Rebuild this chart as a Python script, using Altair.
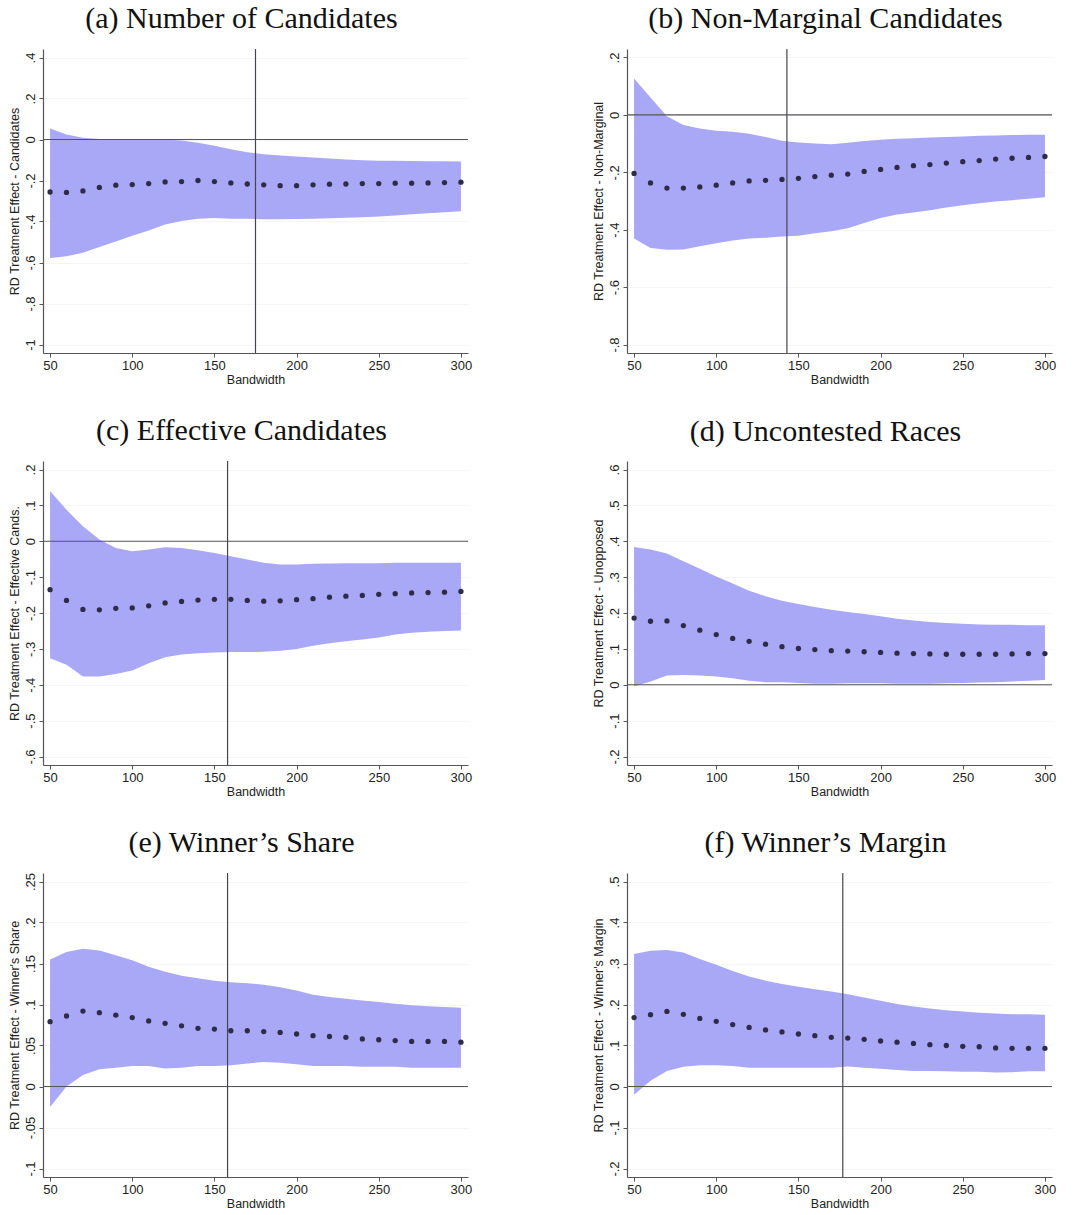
import altair as alt
import pandas as pd

# Bandwidths at which the RD effect was estimated
bandwidth = [50, 60, 70, 80, 90, 100, 110, 120, 130, 140, 150, 160, 170,
             180, 190, 200, 210, 220, 230, 240, 250, 260, 270, 280, 290, 300]

# (a) Number of candidates
a_est = [-0.256, -0.258, -0.251, -0.234, -0.223, -0.220, -0.215, -0.207, -0.205,
         -0.200, -0.205, -0.212, -0.217, -0.221, -0.225, -0.225, -0.221, -0.218,
         -0.217, -0.215, -0.215, -0.213, -0.213, -0.212, -0.210, -0.208]
a_hi = [0.054, 0.024, 0.008, 0.003, 0.000, 0.000, 0.000, 0.000, -0.005, -0.016,
        -0.031, -0.047, -0.062, -0.072, -0.078, -0.083, -0.088, -0.093, -0.098,
        -0.101, -0.104, -0.104, -0.105, -0.106, -0.106, -0.107]
a_lo = [-0.578, -0.570, -0.552, -0.524, -0.497, -0.470, -0.444, -0.415, -0.397,
        -0.386, -0.383, -0.386, -0.387, -0.389, -0.389, -0.388, -0.386, -0.384,
        -0.382, -0.379, -0.376, -0.371, -0.365, -0.360, -0.355, -0.350]

# (b) Non-marginal candidates
b_est = [-0.204, -0.237, -0.255, -0.255, -0.251, -0.245, -0.237, -0.230, -0.228,
         -0.225, -0.221, -0.215, -0.210, -0.206, -0.197, -0.190, -0.183, -0.177,
         -0.173, -0.168, -0.163, -0.159, -0.154, -0.151, -0.148, -0.145]
b_hi = [0.127, 0.061, -0.005, -0.035, -0.047, -0.055, -0.059, -0.066, -0.077,
        -0.090, -0.096, -0.100, -0.102, -0.097, -0.091, -0.087, -0.083, -0.081,
        -0.079, -0.077, -0.075, -0.073, -0.072, -0.070, -0.069, -0.069]
b_lo = [-0.431, -0.464, -0.470, -0.469, -0.458, -0.447, -0.438, -0.431, -0.428,
        -0.424, -0.421, -0.412, -0.405, -0.395, -0.377, -0.359, -0.347, -0.340,
        -0.332, -0.323, -0.315, -0.308, -0.302, -0.297, -0.292, -0.287]

# (c) Effective candidates
c_est = [-0.135, -0.165, -0.190, -0.191, -0.187, -0.186, -0.180, -0.172, -0.168,
         -0.164, -0.162, -0.162, -0.165, -0.167, -0.166, -0.163, -0.160, -0.156,
         -0.153, -0.151, -0.148, -0.146, -0.144, -0.143, -0.142, -0.140]
c_hi = [0.140, 0.088, 0.042, 0.005, -0.019, -0.028, -0.023, -0.017, -0.019,
        -0.025, -0.033, -0.042, -0.051, -0.060, -0.065, -0.065, -0.063, -0.062,
        -0.061, -0.061, -0.061, -0.060, -0.060, -0.060, -0.060, -0.060]
c_lo = [-0.326, -0.344, -0.377, -0.377, -0.370, -0.360, -0.340, -0.323, -0.316,
        -0.312, -0.310, -0.309, -0.309, -0.308, -0.305, -0.300, -0.291, -0.284,
        -0.279, -0.274, -0.268, -0.260, -0.255, -0.252, -0.250, -0.249]

# (d) Uncontested races
d_est = [0.186, 0.177, 0.178, 0.165, 0.152, 0.140, 0.129, 0.121, 0.113, 0.106,
         0.101, 0.098, 0.095, 0.094, 0.092, 0.090, 0.088, 0.087, 0.086, 0.085,
         0.085, 0.085, 0.085, 0.086, 0.087, 0.087]
d_hi = [0.384, 0.377, 0.366, 0.344, 0.323, 0.302, 0.282, 0.262, 0.247, 0.234,
        0.225, 0.217, 0.209, 0.203, 0.197, 0.191, 0.184, 0.179, 0.175, 0.172,
        0.170, 0.168, 0.167, 0.167, 0.166, 0.166]
d_lo = [-0.005, 0.009, 0.026, 0.027, 0.026, 0.023, 0.018, 0.011, 0.007, 0.007,
        0.005, 0.003, 0.003, 0.004, 0.004, 0.004, 0.003, 0.003, 0.003, 0.004,
        0.005, 0.006, 0.007, 0.009, 0.011, 0.013]

# (e) Winner's share
e_est = [0.079, 0.086, 0.092, 0.090, 0.087, 0.084, 0.080, 0.077, 0.074, 0.071,
         0.070, 0.068, 0.068, 0.067, 0.066, 0.064, 0.062, 0.061, 0.060, 0.058,
         0.057, 0.056, 0.055, 0.055, 0.055, 0.054]
e_hi = [0.155, 0.164, 0.168, 0.166, 0.160, 0.154, 0.146, 0.140, 0.135, 0.132,
        0.129, 0.127, 0.126, 0.124, 0.121, 0.117, 0.112, 0.109, 0.107, 0.105,
        0.103, 0.101, 0.099, 0.098, 0.097, 0.096]
e_lo = [-0.025, 0.000, 0.014, 0.021, 0.023, 0.025, 0.025, 0.022, 0.023, 0.025,
        0.025, 0.026, 0.028, 0.030, 0.029, 0.027, 0.025, 0.025, 0.025, 0.024,
        0.024, 0.024, 0.023, 0.023, 0.023, 0.023]

# (f) Winner's margin
f_est = [0.168, 0.175, 0.183, 0.176, 0.166, 0.159, 0.151, 0.144, 0.138, 0.133,
         0.128, 0.124, 0.120, 0.118, 0.115, 0.111, 0.108, 0.105, 0.102, 0.100,
         0.098, 0.097, 0.094, 0.093, 0.093, 0.093]
f_hi = [0.323, 0.331, 0.333, 0.327, 0.311, 0.297, 0.282, 0.268, 0.258, 0.250,
        0.243, 0.237, 0.232, 0.225, 0.217, 0.209, 0.201, 0.195, 0.190, 0.186,
        0.183, 0.180, 0.178, 0.176, 0.176, 0.175]
f_lo = [-0.020, 0.014, 0.038, 0.048, 0.052, 0.052, 0.050, 0.046, 0.046, 0.046,
        0.046, 0.046, 0.046, 0.049, 0.046, 0.043, 0.040, 0.038, 0.038, 0.037,
        0.036, 0.036, 0.034, 0.035, 0.037, 0.037]

# Optimal bandwidth marked by a vertical line (none in panel d)
opt_bw = {"a": 175, "b": 143, "c": 158, "d": None, "e": 158, "f": 177}

titles = {
    "a": "(a) Number of Candidates",
    "b": "(b) Non-Marginal Candidates",
    "c": "(c) Effective Candidates",
    "d": "(d) Uncontested Races",
    "e": "(e) Winner\u2019s Share",
    "f": "(f) Winner\u2019s Margin",
}
ytitles = {
    "a": "RD Treatment Effect - Candidates",
    "b": "RD Treatment Effect - Non-Marginal",
    "c": "RD Treatment Effect - Effective Cands.",
    "d": "RD Treatment Effect - Unopposed",
    "e": "RD Treatment Effect - Winner's Share",
    "f": "RD Treatment Effect - Winner's Margin",
}
yticks = {
    "a": [-1, -0.8, -0.6, -0.4, -0.2, 0, 0.2, 0.4],
    "b": [-0.8, -0.6, -0.4, -0.2, 0, 0.2],
    "c": [-0.6, -0.5, -0.4, -0.3, -0.2, -0.1, 0, 0.1, 0.2],
    "d": [-0.2, -0.1, 0, 0.1, 0.2, 0.3, 0.4, 0.5, 0.6],
    "e": [-0.1, -0.05, 0, 0.05, 0.1, 0.15, 0.2, 0.25],
    "f": [-0.2, -0.1, 0, 0.1, 0.2, 0.3, 0.4, 0.5],
}
series = {
    "a": (a_est, a_lo, a_hi),
    "b": (b_est, b_lo, b_hi),
    "c": (c_est, c_lo, c_hi),
    "d": (d_est, d_lo, d_hi),
    "e": (e_est, e_lo, e_hi),
    "f": (f_est, f_lo, f_hi),
}
xticks = [50, 100, 150, 200, 250, 300]

BAND = "#a8a8f7"
DOT = "#2c2c48"
LINE = "#555558"
W, H = 425, 304

# Stata-style tick labels: ".4", "-.2", "0"
LABEL_EXPR = ("(datum.value < -1e-9 ? '-' : '') + "
              "replace(format(abs(datum.value), '.2~f'), '0.', '.')")


def panel(key):
    est, lo, hi = series[key]
    ticks = yticks[key]
    span = ticks[-1] - ticks[0]
    pad = span * 8.5 / 287
    ydom = [ticks[0] - pad, ticks[-1] + pad]
    xscale = alt.Scale(domain=[45.7, 304.3], nice=False, zero=False)
    yscale = alt.Scale(domain=ydom, nice=False, zero=False)
    xaxis = alt.Axis(values=xticks, title="Bandwidth", grid=False,
                     titlePadding=1)
    yaxis = alt.Axis(values=ticks, title=ytitles[key],
                     labelExpr=LABEL_EXPR, labelAngle=-90,
                     labelAlign="center", labelBaseline="bottom",
                     grid=True, gridColor="#f3f5f7", titlePadding=3)

    df = pd.DataFrame({"bw": bandwidth, "est": est, "lo": lo, "hi": hi})
    base = alt.Chart(df)

    band = base.mark_area(color=BAND, opacity=1).encode(
        x=alt.X("bw:Q", scale=xscale, axis=xaxis),
        y=alt.Y("hi:Q", scale=yscale, axis=yaxis),
        y2="lo:Q",
    )
    zero = alt.Chart(pd.DataFrame({"z": [0]})).mark_rule(
        color=LINE, strokeWidth=1.2).encode(
        y=alt.Y("z:Q", scale=yscale, axis=yaxis))
    layers = [band, zero]
    if opt_bw[key] is not None:
        vline = alt.Chart(pd.DataFrame({"v": [opt_bw[key]]})).mark_rule(
            color="#454550", strokeWidth=1.2).encode(
            x=alt.X("v:Q", scale=xscale, axis=xaxis))
        layers.append(vline)
    dots = base.mark_circle(size=28, color=DOT, opacity=1).encode(
        x=alt.X("bw:Q", scale=xscale, axis=xaxis),
        y=alt.Y("est:Q", scale=yscale, axis=yaxis),
    )
    layers.append(dots)
    return alt.layer(*layers).properties(
        width=W, height=H,
        title=alt.TitleParams(titles[key], font="Liberation Serif",
                              fontSize=30, fontWeight="normal",
                              color="#111111", anchor="middle", offset=14,
                              dx=-14),
    )


rows = []
for pair in (("a", "b"), ("c", "d"), ("e", "f")):
    rows.append(alt.hconcat(panel(pair[0]), panel(pair[1]), spacing=120))

chart = alt.vconcat(*rows, spacing=30).properties(
    padding={"left": 8, "top": 4, "right": 5, "bottom": 5},
    background="white",
).configure_view(stroke=None).configure_axis(
    domainColor=LINE, domainWidth=1.2, tickColor=LINE, tickSize=4,
    labelFont="Liberation Sans", labelFontSize=13, labelColor="#222222",
    labelPadding=2,
    titleFont="Liberation Sans", titleFontSize=12.5, titleFontWeight="normal",
    titleColor="#222222",
)

chart.save("out.html", embed_options={"renderer": "svg", "actions": False})
